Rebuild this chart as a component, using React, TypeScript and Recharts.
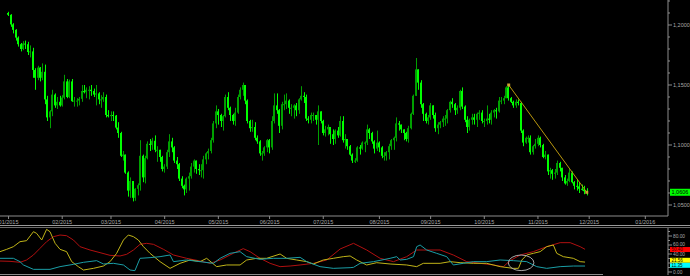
import React from 'react';
import { ComposedChart, Bar, Line, XAxis, YAxis, ReferenceDot } from 'recharts';

// ---- Daily candles [open, high, low, close], one array per month (2015) ----
const jan = [
  [1.2100,1.2110,1.2075,1.2085],[1.2085,1.2090,1.1985,1.2005],[1.2005,1.2015,1.1930,1.1960],[1.1960,1.1965,1.1870,1.1895],
  [1.1895,1.1905,1.1820,1.1840],[1.1840,1.1850,1.1780,1.1800],[1.1800,1.1865,1.1790,1.1845],[1.1845,1.1870,1.1800,1.1840],
  [1.1840,1.1860,1.1750,1.1775],[1.1775,1.1830,1.1730,1.1780],[1.1780,1.1810,1.1560,1.1625],[1.1625,1.1640,1.1460,1.1560],
  [1.1560,1.1660,1.1540,1.1645],[1.1645,1.1650,1.1530,1.1560],[1.1560,1.1680,1.1540,1.1610],[1.1610,1.1670,1.1340,1.1380],
  [1.1380,1.1410,1.1200,1.1230],[1.1230,1.1290,1.1140,1.1280],[1.1280,1.1460,1.1240,1.1420],[1.1420,1.1430,1.1310,1.1330],
  [1.1330,1.1400,1.1300,1.1360],[1.1360,1.1410,1.1320,1.1330],
];
const feb = [
  [1.1330,1.1415,1.1320,1.1395],[1.1395,1.1585,1.1380,1.1530],[1.1530,1.1550,1.1390,1.1400],[1.1400,1.1545,1.1390,1.1530],
  [1.1530,1.1550,1.1360,1.1365],[1.1365,1.1400,1.1320,1.1370],[1.1370,1.1390,1.1320,1.1370],[1.1370,1.1400,1.1330,1.1385],
  [1.1385,1.1500,1.1360,1.1450],[1.1450,1.1500,1.1430,1.1440],[1.1440,1.1480,1.1390,1.1460],[1.1460,1.1490,1.1380,1.1460],
  [1.1460,1.1500,1.1410,1.1450],[1.1450,1.1470,1.1400,1.1420],[1.1420,1.1500,1.1330,1.1430],[1.1430,1.1440,1.1340,1.1380],
  [1.1380,1.1415,1.1310,1.1380],[1.1380,1.1440,1.1360,1.1400],[1.1400,1.1420,1.1230,1.1250],[1.1250,1.1290,1.1230,1.1240],
];
const mar = [
  [1.1240,1.1280,1.1200,1.1250],[1.1250,1.1280,1.1200,1.1245],[1.1245,1.1250,1.1130,1.1145],[1.1145,1.1190,1.1060,1.1100],
  [1.1100,1.1110,1.0900,1.0910],[1.0910,1.0950,1.0870,1.0920],[1.0920,1.0920,1.0760,1.0770],[1.0770,1.0780,1.0570,1.0620],
  [1.0620,1.0730,1.0560,1.0700],[1.0700,1.0700,1.0530,1.0560],[1.0560,1.0640,1.0535,1.0635],[1.0635,1.0680,1.0580,1.0665],
  [1.0665,1.1040,1.0620,1.0910],[1.0910,1.0920,1.0690,1.0730],[1.0730,1.0910,1.0680,1.0890],[1.0890,1.1030,1.0880,1.1010],
  [1.1010,1.1050,1.0950,1.1000],[1.1000,1.1060,1.0960,1.1035],[1.1035,1.1080,1.0940,1.0960],[1.0960,1.0990,1.0860,1.0960],
  [1.0960,1.0960,1.0860,1.0900],[1.0900,1.0910,1.0780,1.0800],
];
const apr = [
  [1.0800,1.0840,1.0770,1.0820],[1.0820,1.0960,1.0800,1.0940],[1.0940,1.1090,1.0900,1.1030],[1.1030,1.1060,1.0940,1.0980],
  [1.0980,1.0990,1.0850,1.0870],[1.0870,1.0900,1.0800,1.0840],[1.0840,1.0850,1.0700,1.0720],[1.0720,1.0740,1.0640,1.0660],
  [1.0660,1.0670,1.0580,1.0630],[1.0630,1.0730,1.0600,1.0720],[1.0720,1.0770,1.0620,1.0740],[1.0740,1.0850,1.0720,1.0820],
  [1.0820,1.0880,1.0770,1.0870],[1.0870,1.0870,1.0760,1.0800],[1.0800,1.0840,1.0750,1.0790],[1.0790,1.0840,1.0730,1.0790],
  [1.0790,1.0910,1.0720,1.0880],[1.0880,1.0940,1.0840,1.0930],[1.0930,1.0970,1.0880,1.0950],[1.0950,1.1060,1.0930,1.1040],
  [1.1040,1.1200,1.1020,1.1180],[1.1180,1.1330,1.1140,1.1280],
];
const may = [
  [1.1280,1.1300,1.1170,1.1250],[1.1250,1.1260,1.1150,1.1200],[1.1200,1.1250,1.1120,1.1240],[1.1240,1.1420,1.1230,1.1400],
  [1.1400,1.1440,1.1290,1.1310],[1.1310,1.1320,1.1200,1.1250],[1.1250,1.1260,1.1170,1.1200],[1.1200,1.1310,1.1160,1.1270],
  [1.1270,1.1420,1.1260,1.1400],[1.1400,1.1480,1.1380,1.1460],[1.1460,1.1520,1.1410,1.1500],[1.1500,1.1500,1.1340,1.1370],
  [1.1370,1.1380,1.1180,1.1200],[1.1200,1.1210,1.1110,1.1140],[1.1140,1.1210,1.1110,1.1150],[1.1150,1.1190,1.1040,1.1060],
  [1.1060,1.1080,1.1010,1.1030],[1.1030,1.1040,1.0910,1.0930],[1.0930,1.0950,1.0870,1.0930],[1.0930,1.0990,1.0910,1.0980],
  [1.0980,1.1050,1.0940,1.1040],
];
const jun = [
  [1.1040,1.1050,1.0930,1.0980],[1.0980,1.1240,1.0960,1.1200],[1.1200,1.1430,1.1180,1.1330],[1.1330,1.1430,1.1260,1.1290],
  [1.1290,1.1300,1.1100,1.1160],[1.1160,1.1360,1.1130,1.1340],[1.1340,1.1420,1.1290,1.1340],[1.1340,1.1430,1.1300,1.1370],
  [1.1370,1.1380,1.1260,1.1310],[1.1310,1.1340,1.1240,1.1310],[1.1310,1.1340,1.1220,1.1330],[1.1330,1.1350,1.1240,1.1290],
  [1.1290,1.1390,1.1260,1.1380],[1.1380,1.1490,1.1370,1.1410],[1.1410,1.1440,1.1350,1.1400],[1.1400,1.1420,1.1200,1.1220],
  [1.1220,1.1240,1.1180,1.1210],[1.1210,1.1270,1.1180,1.1250],[1.1250,1.1270,1.1200,1.1250],[1.1250,1.1250,1.1170,1.1210],
  [1.1210,1.1330,1.1000,1.1280],[1.1280,1.1280,1.1180,1.1200],
];
const jul = [
  [1.1200,1.1210,1.1080,1.1100],[1.1100,1.1160,1.1070,1.1130],[1.1130,1.1170,1.1080,1.1150],[1.1150,1.1150,1.1010,1.1090],
  [1.1090,1.1130,1.1000,1.1050],[1.1050,1.1130,1.1010,1.1120],[1.1120,1.1150,1.1060,1.1080],[1.1080,1.1240,1.1070,1.1200],
  [1.1200,1.1240,1.1020,1.1040],[1.1040,1.1090,1.0970,1.1050],[1.1050,1.1050,1.0960,1.0990],[1.0990,1.1000,1.0910,1.0920],
  [1.0920,1.0930,1.0850,1.0870],[1.0870,1.0890,1.0850,1.0870],[1.0870,1.0990,1.0860,1.0980],[1.0980,1.1000,1.0920,1.0970],
  [1.0970,1.1030,1.0960,1.1020],[1.1020,1.1030,1.0940,1.1020],[1.1020,1.1170,1.1000,1.1130],[1.1130,1.1140,1.1050,1.1100],
  [1.1100,1.1110,1.1010,1.1030],[1.1030,1.1040,1.0930,1.0970],[1.0970,1.1120,1.0950,1.1020],
];
const aug = [
  [1.1020,1.1030,1.0940,1.0980],[1.0980,1.0990,1.0890,1.0910],[1.0910,1.0940,1.0870,1.0910],[1.0910,1.0950,1.0870,1.0940],
  [1.0940,1.1010,1.0880,1.0990],[1.0990,1.1050,1.0960,1.1040],[1.1040,1.1070,1.0960,1.1060],[1.1060,1.1230,1.1030,1.1180],
  [1.1180,1.1200,1.1120,1.1170],[1.1170,1.1170,1.1100,1.1130],[1.1130,1.1130,1.1040,1.1100],[1.1100,1.1110,1.1030,1.1050],
  [1.1050,1.1160,1.1020,1.1140],[1.1140,1.1270,1.1130,1.1260],[1.1260,1.1420,1.1250,1.1410],[1.1410,1.1725,1.1410,1.1630],
  [1.1630,1.1630,1.1460,1.1520],[1.1520,1.1540,1.1310,1.1340],[1.1340,1.1350,1.1200,1.1260],[1.1260,1.1270,1.1180,1.1200],
  [1.1200,1.1250,1.1170,1.1230],
];
const sep = [
  [1.1230,1.1350,1.1210,1.1330],[1.1330,1.1330,1.1220,1.1250],[1.1250,1.1270,1.1110,1.1140],[1.1140,1.1190,1.1090,1.1170],
  [1.1170,1.1200,1.1140,1.1190],[1.1190,1.1240,1.1150,1.1220],[1.1220,1.1250,1.1160,1.1220],[1.1220,1.1300,1.1180,1.1290],
  [1.1290,1.1370,1.1270,1.1360],[1.1360,1.1390,1.1310,1.1340],[1.1340,1.1350,1.1250,1.1290],[1.1290,1.1330,1.1260,1.1310],
  [1.1310,1.1460,1.1290,1.1450],[1.1450,1.1480,1.1300,1.1320],[1.1320,1.1330,1.1190,1.1210],[1.1210,1.1240,1.1100,1.1150],
  [1.1150,1.1220,1.1120,1.1210],[1.1210,1.1260,1.1170,1.1230],[1.1230,1.1260,1.1170,1.1210],[1.1210,1.1270,1.1150,1.1260],
  [1.1260,1.1290,1.1210,1.1270],[1.1270,1.1290,1.1180,1.1200],
];
const oct = [
  [1.1200,1.1220,1.1150,1.1200],[1.1200,1.1330,1.1170,1.1220],[1.1220,1.1260,1.1180,1.1210],[1.1210,1.1290,1.1170,1.1270],
  [1.1270,1.1300,1.1230,1.1290],[1.1290,1.1310,1.1220,1.1280],[1.1280,1.1400,1.1270,1.1370],[1.1370,1.1400,1.1340,1.1370],
  [1.1370,1.1410,1.1340,1.1390],[1.1390,1.1490,1.1390,1.1480],[1.1480,1.1500,1.1370,1.1390],[1.1390,1.1400,1.1350,1.1360],
  [1.1360,1.1370,1.1310,1.1330],[1.1330,1.1380,1.1310,1.1360],[1.1360,1.1380,1.1330,1.1350],[1.1350,1.1360,1.1100,1.1120],
  [1.1120,1.1130,1.0990,1.1020],[1.1020,1.1070,1.1010,1.1060],[1.1060,1.1080,1.1020,1.1060],[1.1060,1.1080,1.0920,1.0940],
  [1.0940,1.1000,1.0920,1.0990],[1.0990,1.1050,1.0970,1.1010],
];
const nov = [
  [1.1010,1.1080,1.0990,1.1060],[1.1060,1.1070,1.0980,1.1000],[1.1000,1.1010,1.0890,1.0900],[1.0900,1.0950,1.0880,1.0920],
  [1.0920,1.0920,1.0750,1.0780],[1.0780,1.0810,1.0720,1.0790],[1.0790,1.0800,1.0710,1.0760],[1.0760,1.0800,1.0720,1.0770],
  [1.0770,1.0870,1.0750,1.0850],[1.0850,1.0860,1.0780,1.0810],[1.0810,1.0810,1.0700,1.0730],[1.0730,1.0750,1.0670,1.0680],
  [1.0680,1.0720,1.0660,1.0700],[1.0700,1.0800,1.0690,1.0770],[1.0770,1.0780,1.0680,1.0690],[1.0690,1.0700,1.0630,1.0660],
  [1.0660,1.0710,1.0620,1.0655],[1.0655,1.0690,1.0600,1.0635],[1.0635,1.0670,1.0620,1.0630],[1.0630,1.0660,1.0590,1.0615],
  [1.0615,1.0640,1.0580,1.0606],
];

// ---- Axis ticks (trading-day index of first session of each month) ----
const monthTickIdx = [0, 22, 42, 64, 86, 107, 129, 152, 173, 195, 217, 238, 261];
const monthLabels = ['01/2015','02/2015','03/2015','04/2015','05/2015','06/2015','07/2015','08/2015','09/2015','10/2015','11/2015','12/2015','01/2016'];
const priceTicks = [1.05,1.06,1.07,1.08,1.09,1.10,1.11,1.12,1.13,1.14,1.15,1.16,1.17,1.18,1.19,1.20,1.21,1.22];
const indTicks = [0,10,20,30,40,50,60,70,80,90];
const indLabelled = [0, 40, 60, 80];

// ---- Trend line (index, price) ----
const trendIdx = [205, 237];
const trendVal = [1.1500, 1.0606];
const lastPriceLabel = '1,0606';

// ---- Indicator lines [index, value] ----
const redPts = [
  [-3.5,24.4],[0.6,23.7],[4.7,21.5],[7.4,26.7],[10.2,37.8],[12.9,52.6],[15.6,67.4],[18.4,78.5],[21.1,82.2],[23.8,80.7],
  [26.6,71.1],[29.3,56.3],[33.4,48.9],[37.5,43],[41.6,37],[45.7,35.6],[48.4,39.3],[51.2,48.9],[53.9,61.5],[56.6,63.7],
  [59.4,61.5],[63.5,50.4],[67.6,37.8],[73,30.4],[78.5,24.4],[82.6,19.3],[86.7,26.7],[92.1,41.5],[96.2,51.9],[99,45.2],
  [103.1,30.4],[107.2,19.3],[111.3,11.9],[115.4,13.3],[119.5,15.6],[125,19.3],[130.4,26.7],[135.9,51.1],[141.4,63.7],[146.8,48.9],
  [152.3,30.4],[157.8,23],[163.2,34.1],[167.3,48.9],[171.4,48.9],[176.9,48.9],[182.3,37.8],[187.8,23],[193.3,19.3],[198.7,15.6],
  [202.8,11.9],[205.6,25.2],[209.7,37.8],[215.1,45.2],[220.6,56.3],[226.1,65.2],[230.2,65.2],[234.3,56.3],[236.3,50.4],
];
const yellowPts = [
  [-3.5,45.2],[-0.75,50.4],[2,56.3],[4.7,67.4],[7.4,69.6],[10.2,89.6],[11.5,85.9],[13.6,71.1],[15.6,94.8],[17,89.6],
  [19.1,63.7],[21.1,50.4],[23.8,45.2],[25.9,23],[28.6,11.9],[30.7,4.4],[34.8,8.1],[38.9,13.3],[41.6,23],[44.3,41.5],
  [47.1,71.1],[49.1,82.2],[51.2,78.5],[53.2,71.1],[55.3,56.3],[58,41.5],[62.1,23],[66.2,8.1],[70.3,19.3],[74.4,26.7],
  [78.5,23],[81.2,30.4],[85.3,11.9],[89.4,15.6],[94.9,15.6],[97.6,26.7],[101.7,30.4],[105.8,30.4],[111.3,40],[114,30.4],
  [118.1,26.7],[122.2,23],[125,17.8],[129,26.7],[133.1,30.4],[137.2,34.1],[140,35.6],[142.7,26.7],[146.8,15.6],[150.9,20.7],
  [156.4,17.8],[163.2,15.6],[167.3,11.9],[170,19.3],[176.9,19.3],[181,23],[185.1,20.7],[190.5,19.3],[196,19.3],[201.5,11.9],
  [206.9,8.1],[209,8.1],[210.4,26.7],[212.4,37.8],[215.1,41.5],[217.9,45.2],[220.6,56.3],[223.3,60],[224.7,41.5],[227.4,34.1],
  [231.5,30.4],[234.3,23],[236.3,22],
];
const cyanPts = [
  [-3.5,30.4],[2,30.4],[4.7,23],[6.1,15.6],[10.2,5.9],[17,5.9],[21.1,11.9],[26.6,17],[30.7,21.5],[36.1,25.2],
  [38.9,17.8],[43,19.3],[47.1,15.6],[49.8,4.4],[51.8,3],[53.9,30.4],[58,31.9],[62.1,34.1],[66.2,37.8],[67.6,23],
  [73,26.7],[78.5,23],[84,19.3],[86.7,30.4],[90.8,41.5],[94.9,45.2],[97.6,34.1],[103.1,28.1],[108.5,30.4],[114,30.4],
  [119.5,32.6],[122.2,23],[127.7,11.9],[133.1,8.1],[140,9.6],[141.4,10.4],[144.1,19.3],[149.6,23],[156.4,30.4],[159.1,34.1],
  [160.5,26.7],[163.2,28.1],[166,34.1],[167.3,56.3],[168.7,60],[171.4,48.9],[175.5,41.5],[179.6,34.1],[182.3,15.6],[186.4,19.3],
  [190.5,23],[196,23],[201.5,26.7],[206.9,25.2],[212.4,23],[216.5,11.9],[220.6,8.1],[226.1,11.9],[231.5,13.3],[236.3,13.3],
];
const redLabel = '50.40';
const yellowLabel = '21.56';
const cyanLabel = '11.35';
const circleCenter = [210.1, 20.4];

// ---- Derived tables ----
const candles = [...jan, ...feb, ...mar, ...apr, ...may, ...jun, ...jul, ...aug, ...sep, ...oct, ...nov]
  .map(([o, h, l, c], i) => ({ i, o, h, l, c }));
const trendData = trendIdx.map((i, k) => ({ i, v: trendVal[k] }));
const toPts = (arr) => arr.map(([i, v]) => ({ i, v }));
const redData = toPts(redPts);
const yellowData = toPts(yellowPts);
const cyanData = toPts(cyanPts);
const lastCandle = candles[candles.length - 1];
const lastOf = (arr) => arr[arr.length - 1];

const FONT = 'Liberation Sans, Arial, sans-serif';
const AXIS = '#8c8c8c';
const TXT = '#a8a8a8';
const BRIGHT = '#00ff00';
const DARK = '#00a000';
const X_DOMAIN = [-3.5, 270.3];

const Candle = (props: any) => {
  const { x, y, width, height, payload } = props;
  if (x == null || y == null || !payload) return null;
  const { o, h, l, c } = payload;
  const top = Math.min(y, y + height);
  const span = Math.abs(height);
  const py = (p: number) => (h === l ? top : top + ((h - p) / (h - l)) * span);
  const cx = Math.round(x + width / 2);
  const color = c >= o ? DARK : BRIGHT;
  const bTop = py(Math.max(o, c));
  const bBot = py(Math.min(o, c));
  return (
    <g>
      <rect x={cx} y={top} width={1} height={Math.max(span, 1)} fill={color} />
      <rect x={cx - 1} y={bTop} width={2} height={Math.max(bBot - bTop, 1)} fill={color} />
    </g>
  );
};

const PriceTick = (props: any) => {
  const { x, y, payload } = props;
  const v = payload.value;
  const major = Math.round(v * 100) % 5 === 0;
  return (
    <g>
      <line x1={x} x2={x + (major ? 4 : 2)} y1={y} y2={y} stroke={AXIS} />
      {major && (
        <text x={x + 5} y={y} dy={2} fontSize={5.5} fill={TXT} fontFamily={FONT}>
          {v.toFixed(4).replace('.', ',')}
        </text>
      )}
    </g>
  );
};

const indLabelDy = { 0: 1.8, 40: 2.4, 60: 1.1, 80: 1.8 };

const IndTick = (props: any) => {
  const { x, y, payload } = props;
  const v = payload.value;
  const major = v % 20 === 0;
  const labelled = indLabelled.includes(v);
  return (
    <g>
      <line x1={x} x2={x + (major ? 4 : 2)} y1={y} y2={y} stroke={AXIS} />
      {labelled && (
        <text x={x + 5} y={y} dy={indLabelDy[v]} fontSize={4.8} fill={TXT} fontFamily={FONT}>
          {v.toFixed(2)}
        </text>
      )}
    </g>
  );
};

const boxShape = (bg: string, fg: string, label: string, shift: number, h: number, fs: number) => (p: any) => (
  <g>
    <rect x={670} y={p.cy + shift - h / 2} width={20} height={h} fill={bg} />
    <text x={671.5} y={p.cy + shift} dy={fs * 0.36} fontSize={fs} fill={fg} fontFamily={FONT}>{label}</text>
  </g>
);

const TrendDot = (p: any) => (
  <rect x={p.cx - 1.5} y={p.cy - 1.5} width={3} height={3} fill="#c8a030" />
);

export default function App() {
  return (
    <div style={{ position: 'fixed', left: 0, top: 0, width: 690, height: 276, background: '#000', overflow: 'hidden' }}>
      <div style={{ position: 'absolute', left: 0, top: 225, width: 690, height: 1, background: '#9a9a9a' }} />
      <div style={{ position: 'absolute', left: 0, top: 227, width: 690, height: 1, background: '#6a6a6a' }} />
      <div style={{ position: 'absolute', left: 0, top: 274, width: 603, height: 1, background: '#8a8a8a' }} />
      <div style={{ position: 'absolute', left: 0, top: 0 }}>
        <ComposedChart width={690} height={226} data={candles} margin={{ top: 0, right: 0, left: 0, bottom: 0 }}>
          <XAxis
            type="number"
            dataKey="i"
            domain={X_DOMAIN}
            allowDataOverflow
            ticks={monthTickIdx}
            interval={0}
            tickFormatter={(v) => monthLabels[monthTickIdx.indexOf(v)] ?? ''}
            height={10}
            tickSize={3}
            tickMargin={1}
            stroke={AXIS}
            tick={{ fill: TXT, fontSize: 5.5, fontFamily: FONT }}
          />
          <YAxis
            orientation="right"
            width={22}
            domain={[1.04083, 1.22083]}
            allowDataOverflow
            ticks={priceTicks}
            interval={0}
            tickLine={false}
            tickSize={0}
            tickMargin={0}
            axisLine={{ stroke: AXIS }}
            tick={<PriceTick />}
          />
          <Bar dataKey={(d: any) => [d.l, d.h]} barSize={2} shape={<Candle />} isAnimationActive={false} />
          <Line
            data={trendData}
            dataKey="v"
            stroke="#b8960e"
            strokeWidth={1}
            dot={<TrendDot />}
            activeDot={false}
            isAnimationActive={false}
          />
          <ReferenceDot x={lastCandle.i} y={lastCandle.c} r={0} shape={boxShape('#00ff00', '#000', lastPriceLabel, 0, 7, 5.5)} />
        </ComposedChart>
      </div>
      <div style={{ position: 'absolute', left: 0, top: 226 }}>
        <ComposedChart width={690} height={50} margin={{ top: 2, right: 0, left: 0, bottom: 1 }}>
          <XAxis type="number" dataKey="i" domain={X_DOMAIN} allowDataOverflow hide />
          <YAxis
            orientation="right"
            width={22}
            domain={[-6.67, 97.8]}
            allowDataOverflow
            ticks={indTicks}
            interval={0}
            tickLine={false}
            tickSize={0}
            tickMargin={0}
            axisLine={{ stroke: AXIS }}
            tick={<IndTick />}
          />
          <Line data={redData} dataKey="v" stroke="#b01010" strokeWidth={1} dot={false} activeDot={false} isAnimationActive={false} />
          <Line data={yellowData} dataKey="v" stroke="#c0b418" strokeWidth={1} dot={false} activeDot={false} isAnimationActive={false} />
          <Line data={cyanData} dataKey="v" stroke="#1a9ea6" strokeWidth={1} dot={false} activeDot={false} isAnimationActive={false} />
          <ReferenceDot
            x={circleCenter[0]}
            y={circleCenter[1]}
            r={0}
            shape={(p: any) => <ellipse cx={p.cx} cy={p.cy} rx={12.8} ry={7.8} fill="none" stroke="#a8a8a8" strokeWidth={1} />}
          />
          <ReferenceDot x={lastOf(redPts)[0]} y={lastOf(redPts)[1]} r={0} shape={boxShape('#ff0000', '#400000', redLabel, 0.2, 5, 4.5)} />
          <ReferenceDot x={lastOf(yellowPts)[0]} y={lastOf(yellowPts)[1]} r={0} shape={boxShape('#ffff00', '#000', yellowLabel, -1.8, 5, 4.5)} />
          <ReferenceDot x={lastOf(cyanPts)[0]} y={lastOf(cyanPts)[1]} r={0} shape={boxShape('#00ffff', '#000', cyanLabel, -0.7, 5, 4.5)} />
        </ComposedChart>
      </div>
    </div>
  );
}
